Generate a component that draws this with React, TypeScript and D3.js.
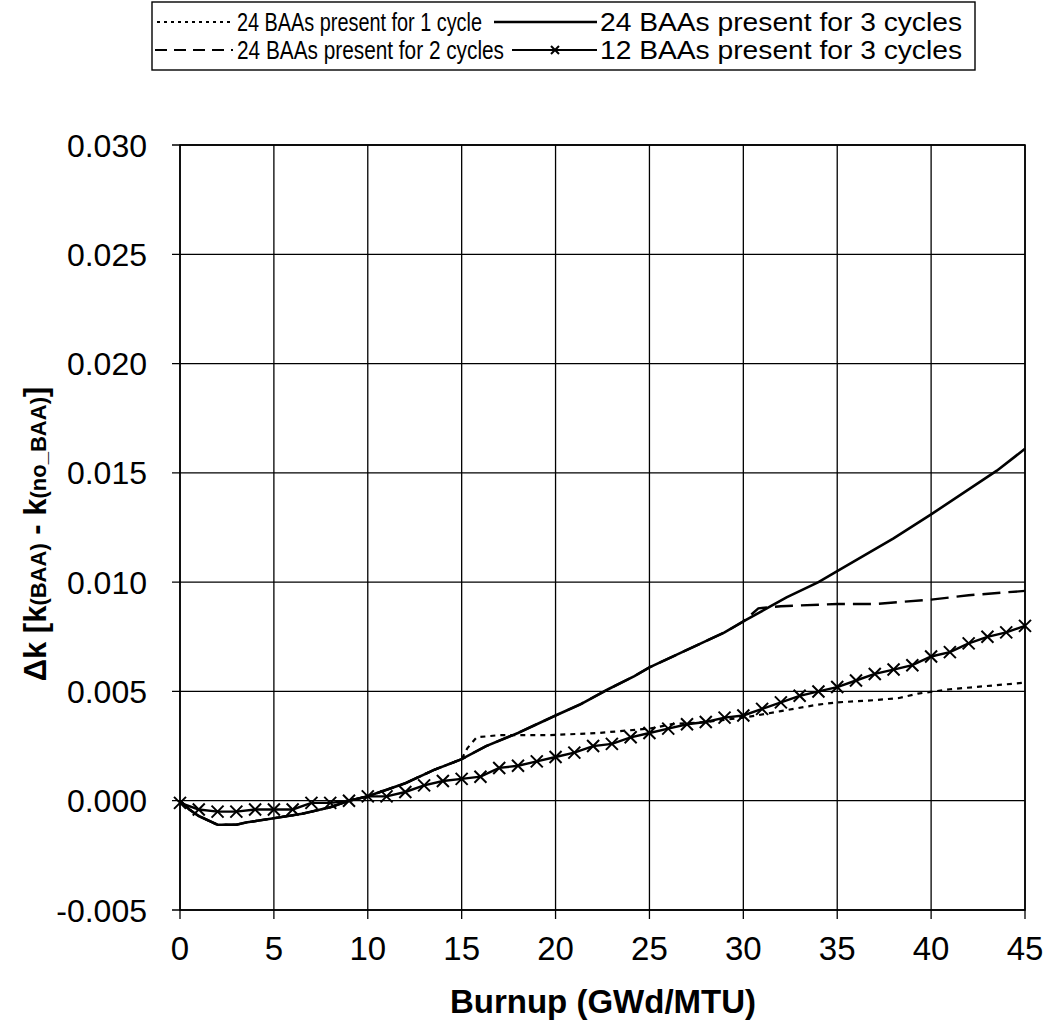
import React from "react";
import * as d3 from "d3";

type Pt = [number, number];

const burnupTicks = [0, 5, 10, 15, 20, 25, 30, 35, 40, 45];
const dkTicks = [-0.005, 0, 0.005, 0.01, 0.015, 0.02, 0.025, 0.03];

// 24 BAAs present for 3 cycles (solid)
const baa24cycles3: Pt[] = [
  [0, 0], [0.5, -0.0004], [1, -0.0007], [2, -0.0011], [3, -0.0011], [3.5, -0.001],
  [5, -0.0008], [6.5, -0.0006], [8, -0.0003], [9, 0.0], [10, 0.0002], [11, 0.0005],
  [12, 0.0008], [13.5, 0.0014], [15, 0.0019], [16.3, 0.0025], [18, 0.0031], [20, 0.0039],
  [21.3, 0.0044], [22.8, 0.0051], [24.2, 0.0057], [25, 0.0061], [27, 0.0069], [29, 0.0077],
  [30, 0.0082], [32.3, 0.0093], [34, 0.01], [35, 0.0105], [38, 0.012], [40, 0.0131],
  [43.5, 0.0151], [45, 0.0161],
];

// 24 BAAs present for 1 cycle (dotted)
const baa24cycles1: Pt[] = [
  [0, 0], [0.5, -0.0004], [1, -0.0007], [2, -0.0011], [3, -0.0011], [3.5, -0.001],
  [5, -0.0008], [6.5, -0.0006], [8, -0.0003], [9, 0.0], [10, 0.0002], [11, 0.0005],
  [12, 0.0008], [13.5, 0.0014], [15, 0.0019], [15.3, 0.0024], [15.8, 0.0029], [17, 0.003],
  [19.7, 0.003], [22.3, 0.0031], [25, 0.0033], [26.2, 0.0035], [28, 0.0036], [30, 0.0038],
  [30.7, 0.0039], [32, 0.0041], [34, 0.0044], [35, 0.0045], [37, 0.0046], [38.3, 0.0047],
  [39.3, 0.0049], [41, 0.0051], [45, 0.0054],
];

// 24 BAAs present for 2 cycles (dashed)
const baa24cycles2: Pt[] = [
  [0, 0], [0.5, -0.0004], [1, -0.0007], [2, -0.0011], [3, -0.0011], [3.5, -0.001],
  [5, -0.0008], [6.5, -0.0006], [8, -0.0003], [9, 0.0], [10, 0.0002], [11, 0.0005],
  [12, 0.0008], [13.5, 0.0014], [15, 0.0019], [16.3, 0.0025], [18, 0.0031], [20, 0.0039],
  [21.3, 0.0044], [22.8, 0.0051], [24.2, 0.0057], [25, 0.0061], [27, 0.0069], [29, 0.0077],
  [30, 0.0082], [30.4, 0.0085], [30.8, 0.0088], [32, 0.0089], [35, 0.009], [37, 0.009],
  [40, 0.0092], [42, 0.0094], [45, 0.0096],
];

// 12 BAAs present for 3 cycles (x markers)
const baa12burnup = [
  0, 1, 2, 3, 4, 5, 6, 7, 8, 9, 10, 11, 12, 13, 14, 15, 16, 17, 18, 19, 20, 21, 22,
  23, 24, 25, 26, 27, 28, 29, 30, 31, 32, 33, 34, 35, 36, 37, 38, 39, 40, 41, 42, 43, 44, 45,
];
const baa12dk = [
  -0.0001, -0.0004, -0.0005, -0.0005, -0.0004, -0.0004, -0.0004, -0.0001, -0.0001, 0.0,
  0.0002, 0.0002, 0.0004, 0.0007, 0.0009, 0.001, 0.0011, 0.0015, 0.0016, 0.0018, 0.002,
  0.0022, 0.0025, 0.0026, 0.0029, 0.0031, 0.0033, 0.0035, 0.0036, 0.0038, 0.0039, 0.0042,
  0.0045, 0.0048, 0.005, 0.0052, 0.0055, 0.0058, 0.006, 0.0062, 0.0066, 0.0068, 0.0072,
  0.0075, 0.0077, 0.008,
];

const legendLabels = [
  "24 BAAs present for 1 cycle",
  "24 BAAs present for 3 cycles",
  "24 BAAs present for 2 cycles",
  "12 BAAs present for 3 cycles",
];

const FONT = "'Liberation Sans', Arial, Helvetica, sans-serif";

function XMark({ x, y, s = 6 }: { x: number; y: number; s?: number }) {
  return (
    <path
      d={`M${x - s},${y - s}L${x + s},${y + s}M${x - s},${y + s}L${x + s},${y - s}`}
      stroke="#000"
      strokeWidth={2}
    />
  );
}

export default function App() {
  const left = 180, right = 1025, top = 145, bottom = 910;
  const x = d3.scaleLinear().domain([0, 45]).range([left, right]);
  const y = d3.scaleLinear().domain([-0.005, 0.03]).range([bottom, top]);
  const line = d3.line<Pt>().x((d) => x(d[0])).y((d) => y(d[1]));
  const baa12: Pt[] = baa12burnup.map((b, i) => [b, baa12dk[i]]);

  const legRow1 = 22, legRow2 = 50;
  const legFont = 26;

  return (
    <div style={{ position: "absolute", left: 0, top: 0 }}>
      <svg width={1056} height={1026} style={{ display: "block", background: "#fff" }} fontFamily={FONT}>
        <rect x={0} y={0} width={1056} height={1026} fill="#fff" />
        {/* grid */}
        {burnupTicks.map((t) => (
          <line key={"gx" + t} x1={x(t)} x2={x(t)} y1={top} y2={bottom + 9} stroke="#000" strokeWidth={1.3} />
        ))}
        {dkTicks.map((t) => (
          <line key={"gy" + t} x1={left - 8} x2={right} y1={y(t)} y2={y(t)} stroke="#000" strokeWidth={1.3} />
        ))}
        <rect x={left} y={top} width={right - left} height={bottom - top} fill="none" stroke="#000" strokeWidth={1.6} />

        {/* tick labels */}
        {dkTicks.map((t) => (
          <text key={"ly" + t} x={147} y={y(t)} dy="0.36em" textAnchor="end" fontSize={32} fill="#000">
            {d3.format(".3f")(t).replace("−", "-")}
          </text>
        ))}
        {burnupTicks.map((t) => (
          <text key={"lx" + t} x={x(t)} y={960} textAnchor="middle" fontSize={33} fill="#000">
            {t}
          </text>
        ))}

        {/* axis titles */}
        <text x={603} y={1013} textAnchor="middle" fontSize={33} fontWeight="bold" fill="#000">
          Burnup (GWd/MTU)
        </text>
        <text transform="translate(46,534) rotate(-90)" textAnchor="middle" fontSize={31} fontWeight="bold" fill="#000">
          <tspan>Δk [k</tspan>
          <tspan fontSize={22}>(BAA)</tspan>
          <tspan> - k</tspan>
          <tspan fontSize={22}>(no_BAA)</tspan>
          <tspan>]</tspan>
        </text>

        {/* series */}
        <path d={line(baa24cycles1) || ""} fill="none" stroke="#000" strokeWidth={2.2} strokeDasharray="5,5" />
        <path d={line(baa24cycles2) || ""} fill="none" stroke="#000" strokeWidth={2.4} strokeDasharray="18,8" />
        <path d={line(baa24cycles3) || ""} fill="none" stroke="#000" strokeWidth={2.6} />
        <path d={line(baa12) || ""} fill="none" stroke="#000" strokeWidth={2.4} />
        {baa12.map((d, i) => (
          <XMark key={"m" + i} x={x(d[0])} y={y(d[1])} />
        ))}

        {/* legend */}
        <rect x={152} y={2} width={823} height={68} fill="#fff" stroke="#000" strokeWidth={1.4} />
        <line x1={157} x2={233} y1={legRow1} y2={legRow1} stroke="#000" strokeWidth={2} strokeDasharray="3,4" />
        <text x={237} y={legRow1 + 9} fontSize={legFont} fill="#000" textLength={245} lengthAdjust="spacingAndGlyphs">{legendLabels[0]}</text>
        <line x1={494} x2={597} y1={legRow1} y2={legRow1} stroke="#000" strokeWidth={2.4} />
        <text x={600} y={legRow1 + 9} fontSize={legFont} fill="#000" textLength={362} lengthAdjust="spacingAndGlyphs">{legendLabels[1]}</text>
        <line x1={155} x2={233} y1={legRow2} y2={legRow2} stroke="#000" strokeWidth={2.2} strokeDasharray="12,7" />
        <text x={237} y={legRow2 + 9} fontSize={legFont} fill="#000" textLength={267} lengthAdjust="spacingAndGlyphs">{legendLabels[2]}</text>
        <line x1={512} x2={597} y1={legRow2} y2={legRow2} stroke="#000" strokeWidth={2.2} />
        <XMark x={555} y={legRow2} s={4} />
        <text x={600} y={legRow2 + 9} fontSize={legFont} fill="#000" textLength={362} lengthAdjust="spacingAndGlyphs">{legendLabels[3]}</text>
      </svg>
    </div>
  );
}
